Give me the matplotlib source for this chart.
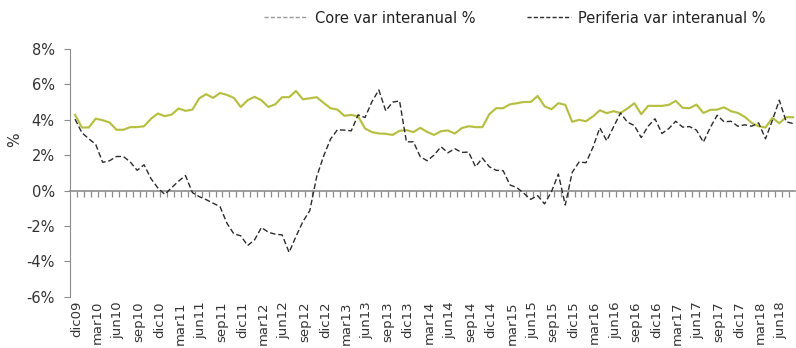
import matplotlib
matplotlib.use("Agg")
import matplotlib.pyplot as plt
from matplotlib.lines import Line2D
from matplotlib.ticker import FuncFormatter

# Variacion interanual mensual, dic09 - ago18
core = [4.28, 3.57, 3.57, 4.07, 3.98, 3.85, 3.44, 3.44, 3.59, 3.59,
        3.64, 4.06, 4.36, 4.21, 4.30, 4.64, 4.51, 4.58, 5.22, 5.45,
        5.24, 5.52, 5.41, 5.24, 4.73, 5.11, 5.30, 5.11, 4.73, 4.88,
        5.28, 5.28, 5.63, 5.16, 5.22, 5.28, 4.96, 4.66, 4.58, 4.23,
        4.28, 4.19, 3.51, 3.31, 3.23, 3.21, 3.15, 3.38, 3.42, 3.31,
        3.55, 3.32, 3.15, 3.36, 3.40, 3.23, 3.53, 3.64, 3.59, 3.59,
        4.32, 4.66, 4.66, 4.88, 4.94, 5.01, 5.01, 5.35, 4.77, 4.60,
        4.94, 4.85, 3.89, 4.00, 3.92, 4.19, 4.54, 4.38, 4.49, 4.39,
        4.64, 4.94, 4.32, 4.79, 4.79, 4.79, 4.85, 5.07, 4.68, 4.66,
        4.86, 4.39, 4.56, 4.58, 4.71, 4.49, 4.39, 4.17, 3.83, 3.64,
        3.57, 4.11, 3.81, 4.15, 4.15]

periferia = [4.04, 3.27, 2.93, 2.61, 1.60, 1.69, 1.93, 1.93, 1.62, 1.15,
             1.46, 0.68, 0.15, -0.21, 0.17, 0.54, 0.85, -0.11, -0.34, -0.51,
             -0.71, -0.90, -1.84, -2.44, -2.55, -3.10, -2.78, -2.08, -2.35, -2.46,
             -2.50, -3.49, -2.59, -1.75, -1.13, 0.79, 1.95, 2.91, 3.44, 3.42,
             3.38, 4.28, 4.13, 5.03, 5.69, 4.51, 5.00, 5.07, 2.76, 2.76,
             1.92, 1.69, 2.01, 2.48, 2.14, 2.37, 2.16, 2.18, 1.35, 1.84,
             1.35, 1.15, 1.13, 0.32, 0.17, -0.15, -0.49, -0.28, -0.75, -0.06,
             0.94, -0.81, 1.03, 1.62, 1.58, 2.44, 3.55, 2.82, 3.61, 4.39,
             3.87, 3.68, 3.00, 3.64, 4.06, 3.23, 3.51, 3.92, 3.59, 3.62,
             3.42, 2.74, 3.57, 4.26, 3.89, 3.92, 3.64, 3.72, 3.64, 3.83,
             2.93, 3.98, 5.11, 3.89, 3.79]

meses = ["ene", "feb", "mar", "abr", "may", "jun",
         "jul", "ago", "sep", "oct", "nov", "dic"]

# etiquetas: mes abreviado + año, empezando en dic09
fechas = []
for i in range(len(core)):
    m = (11 + i) % 12
    a = 9 + (11 + i) // 12
    fechas.append("%s%02d" % (meses[m], a))

gris = "#8c8c8c"
texto = "#333333"

fig = plt.figure(figsize=(7.96, 3.48), dpi=100)
ax = fig.add_axes([0.088, 0.147, 0.911, 0.712])

x = list(range(len(core)))
ax.plot(x, core, color="#bfc93c", lw=1.6, zorder=3)
ax.plot(x, core, color="#9a9a7a", lw=0.4, ls=(0, (3, 2)), zorder=4)
ax.plot(x, periferia, color="#2b2b2b", lw=1.0, ls=(0, (4, 2)), zorder=5)

ax.set_ylim(-6, 8)
ax.set_xlim(-0.72, 104.3)
ax.set_yticks(range(-6, 9, 2))
ax.yaxis.set_major_formatter(FuncFormatter(lambda v, p: "%d%%" % v))
ax.tick_params(axis="y", length=4, color=gris, labelsize=10.5,
               labelcolor=texto, pad=7)

# etiquetas del eje x cada 3 meses, abajo del todo
pos = [i + 0.25 for i in range(0, len(core), 3)]
ax.set_xticks(pos)
ax.set_xticklabels([fechas[i] for i in range(0, len(core), 3)],
                   rotation=90, fontsize=9.5, color=texto)
ax.tick_params(axis="x", length=0, pad=3)

for s in ["top", "right", "bottom"]:
    ax.spines[s].set_visible(False)
ax.spines["left"].set_color(gris)

# eje de categorias sobre el 0% con una marca por mes
eje0 = ax.secondary_xaxis(6 / 14)
eje0.set_xticks([i + 0.35 for i in x])
eje0.set_xticklabels([])
eje0.tick_params(length=4, color=gris, direction="out", width=0.9)
eje0.spines["bottom"].set_color(gris)
eje0.spines["bottom"].set_linewidth(1.2)

ax.set_ylabel("%", fontsize=11, color=texto)
ax.yaxis.set_label_coords(-0.066, 0.633)

handles = [Line2D([], [], color="#9a9a9a", lw=1.0, ls=(0, (3, 1.5))),
           Line2D([], [], color="#2b2b2b", lw=1.0, ls=(0, (3, 1.5)))]
fig.legend(handles, ["Core var interanual %", "Periferia var interanual %"],
           loc="center", bbox_to_anchor=(0.647, 0.948), ncol=2,
           frameon=False, fontsize=10.5, handlelength=3.0,
           handletextpad=0.5, columnspacing=3.5, labelcolor="#222222")

fig.savefig("out.png", dpi=100)
